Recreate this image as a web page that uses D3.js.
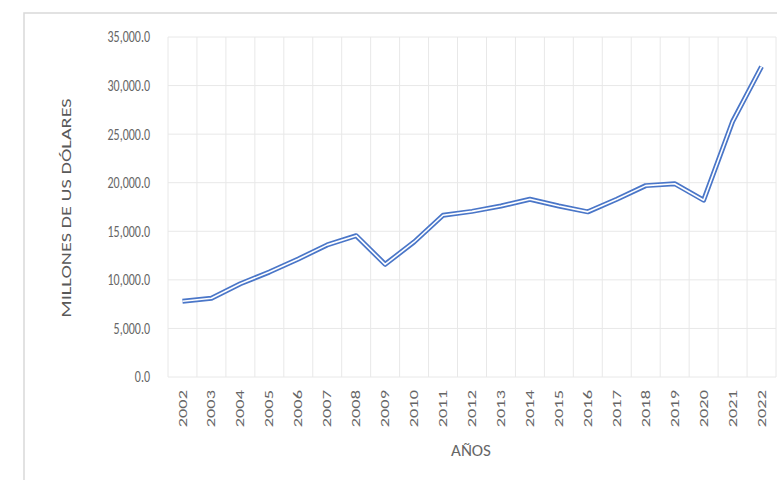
<!DOCTYPE html>
<html lang="es">
<head>
    <meta charset="utf-8">
    <title>Millones de US dólares</title>
    <script src="https://cdn.jsdelivr.net/npm/d3@7"></script>
    <style>
        body { margin: 0; background: #fff; }
        text { font-family: Calibri, Carlito, "Liberation Sans", "DejaVu Sans", sans-serif; }
    </style>
</head>
<body>
    <svg width="777" height="480"></svg>
    <script>
        var years = ["2002", "2003", "2004", "2005", "2006", "2007", "2008", "2009", "2010", "2011", "2012",
            "2013", "2014", "2015", "2016", "2017", "2018", "2019", "2020", "2021", "2022"];
        var valores = [7800, 8100, 9600, 10800, 12150, 13600, 14550, 11600, 13900, 16650, 17050,
            17600, 18300, 17600, 17000, 18300, 19700, 19900, 18200, 26300, 31950];
        var yTicks = [0, 5000, 10000, 15000, 20000, 25000, 30000, 35000];

        var svg = d3.select("svg");

        // marco del grafico
        svg.append("path")
            .attr("d", "M24,480 V13 H777")
            .attr("fill", "none")
            .attr("stroke", "#d9d9d9")
            .attr("stroke-width", 1.5);

        var x = d3.scaleBand().domain(years).range([168, 776]);
        var y = d3.scaleLinear().domain([0, 35000]).range([377, 37]);
        var fmt = d3.format(",.1f");

        // rejilla horizontal
        svg.append("g").selectAll("line")
            .data(yTicks)
            .enter()
            .append("line")
            .attr("x1", x.range()[0]).attr("x2", x.range()[1])
            .attr("y1", function (d) { return y(d); })
            .attr("y2", function (d) { return y(d); })
            .attr("stroke", "#e8e8e8");

        // rejilla vertical
        svg.append("g").selectAll("line")
            .data(years.concat(["fin"]))
            .enter()
            .append("line")
            .attr("x1", function (d, i) { return x.range()[0] + i * x.step(); })
            .attr("x2", function (d, i) { return x.range()[0] + i * x.step(); })
            .attr("y1", y(35000)).attr("y2", y(0))
            .attr("stroke", "#e8e8e8");

        // etiquetas eje Y
        svg.append("g").selectAll("text")
            .data(yTicks)
            .enter()
            .append("text")
            .attr("transform", function (d) { return "translate(150," + y(d) + ") scale(1,1.3)"; })
            .attr("dy", "0.35em")
            .attr("text-anchor", "end")
            .attr("font-size", 12)
            .attr("fill", "#666666")
            .text(function (d) { return fmt(d); });

        // etiquetas eje X
        svg.append("g").selectAll("text")
            .data(years)
            .enter()
            .append("text")
            .attr("transform", function (d) {
                return "translate(" + (x(d) + x.bandwidth() / 2) + ",390) scale(1,1.6) rotate(-90)";
            })
            .attr("dy", "0.35em")
            .attr("text-anchor", "end")
            .attr("font-size", 11.5)
            .attr("fill", "#666666")
            .text(function (d) { return d; });

        // titulos de ejes
        svg.append("text")
            .attr("transform", "translate(66,208) scale(1,1.45) rotate(-90)")
            .attr("dy", "0.35em")
            .attr("text-anchor", "middle")
            .attr("font-size", 14)
            .attr("fill", "#595959")
            .text("MILLONES DE US DÓLARES");
        svg.append("text")
            .attr("x", 471)
            .attr("y", 450)
            .attr("dy", "0.35em")
            .attr("text-anchor", "middle")
            .attr("font-size", 17)
            .attr("fill", "#666666")
            .text("AÑOS");

        // linea doble
        var line = d3.line()
            .x(function (d, i) { return x(years[i]) + x.bandwidth() / 2; })
            .y(function (d) { return y(d); });
        svg.append("path")
            .datum(valores)
            .attr("d", line)
            .attr("fill", "none")
            .attr("stroke", "#4a76c8")
            .attr("stroke-width", 5)
            .attr("stroke-linejoin", "round");
        svg.append("path")
            .datum(valores)
            .attr("d", line)
            .attr("fill", "none")
            .attr("stroke", "#ffffff")
            .attr("stroke-width", 1.6)
            .attr("stroke-linejoin", "round");
    </script>
</body>
</html>
